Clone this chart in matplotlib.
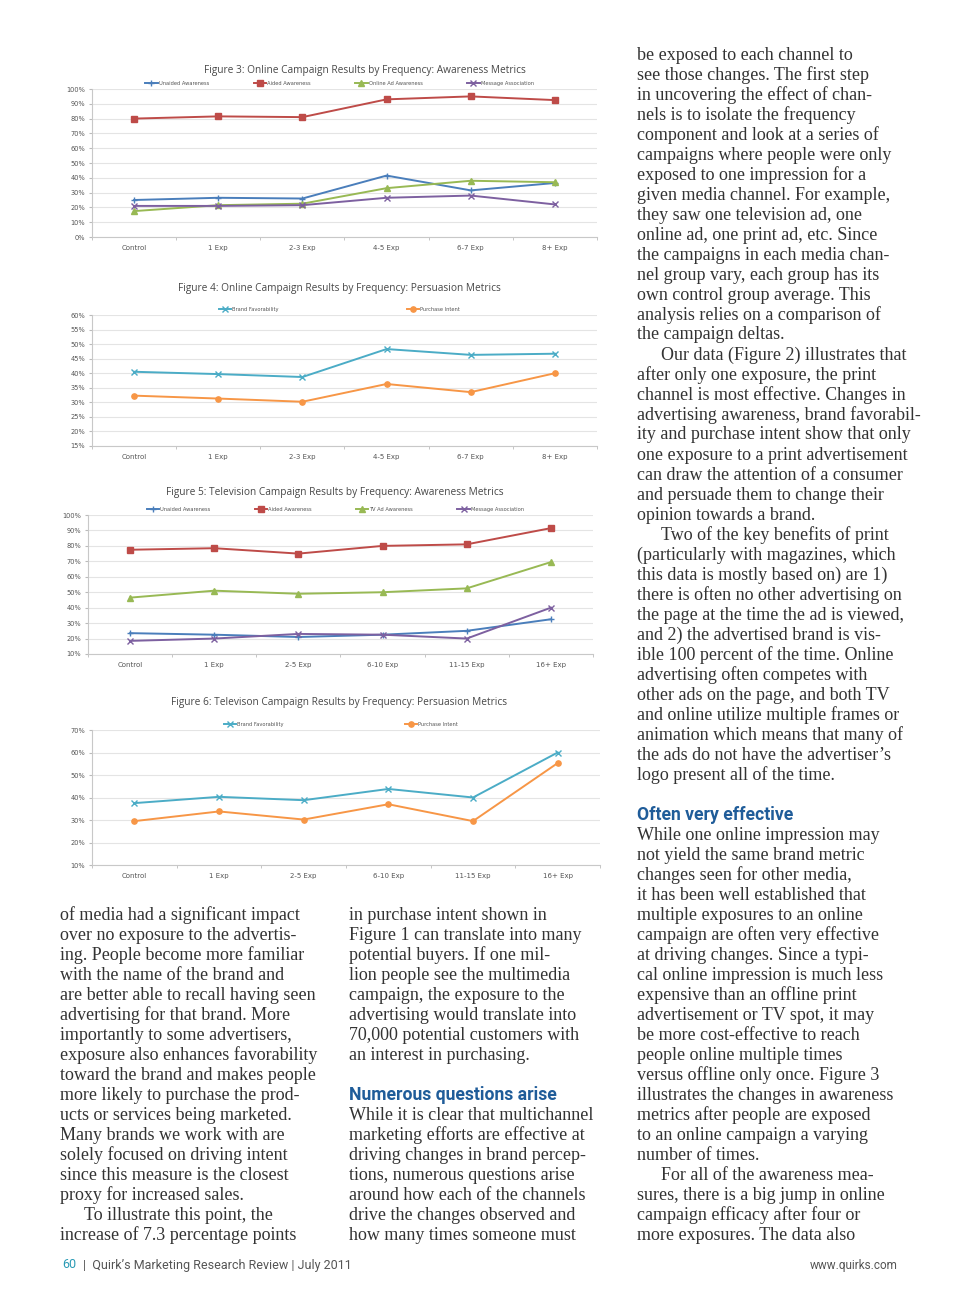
import numpy as np
import matplotlib
matplotlib.use('Agg')
import matplotlib.pyplot as plt

W, H = 960, 1305

# ---- chart data ----
cats_online = ['Control', '1 Exp', '2-3 Exp', '4-5 Exp', '6-7 Exp', '8+ Exp']
cats_tv = ['Control', '1 Exp', '2-5 Exp', '6-10 Exp', '11-15 Exp', '16+ Exp']

f3_unaided = [25, 26.5, 26, 41.5, 31.5, 36.5]
f3_aided = [80, 81.5, 81, 93, 95, 92.5]
f3_online_ad = [17.5, 21.5, 22.5, 33, 38, 37]
f3_message = [21, 21, 21.5, 26.5, 28, 22]

f4_favor = [40.5, 39.7, 38.7, 48.3, 46.3, 46.7]
f4_intent = [32.3, 31.3, 30.2, 36.3, 33.5, 40]

f5_unaided = [23.5, 22.5, 21, 22.5, 25, 32.5]
f5_aided = [77.5, 78.5, 75, 80, 81, 91.5]
f5_tv_ad = [46.5, 51, 49, 50, 52.5, 69.5]
f5_message = [18.5, 20, 23, 22.5, 20, 40]

f6_favor = [37.5, 40.3, 38.8, 43.8, 40, 60]
f6_intent = [29.5, 33.8, 30.2, 37, 29.5, 55.3]

BLUE, RED, GREEN, PURPLE = '#4a7ebb', '#be4b48', '#98b954', '#7d60a0'
TEAL, ORANGE = '#4bacc6', '#f79646'

# ---- page text ----
left_col = [
    "of media had a significant impact",
    "over no exposure to the advertis-",
    "ing. People become more familiar",
    "with the name of the brand and",
    "are better able to recall having seen",
    "advertising for that brand. More",
    "importantly to some advertisers,",
    "exposure also enhances favorability",
    "toward the brand and makes people",
    "more likely to purchase the prod-",
    "ucts or services being marketed.",
    "Many brands we work with are",
    "solely focused on driving intent",
    "since this measure is the closest",
    "proxy for increased sales.",
    "\tTo illustrate this point, the",
    "increase of 7.3 percentage points",
]
mid_col = [
    "in purchase intent shown in",
    "Figure 1 can translate into many",
    "potential buyers. If one mil-",
    "lion people see the multimedia",
    "campaign, the exposure to the",
    "advertising would translate into",
    "70,000 potential customers with",
    "an interest in purchasing.",
    "",
    "#Numerous questions arise",
    "While it is clear that multichannel",
    "marketing efforts are effective at",
    "driving changes in brand percep-",
    "tions, numerous questions arise",
    "around how each of the channels",
    "drive the changes observed and",
    "how many times someone must",
]
right_col = [
    "be exposed to each channel to",
    "see those changes. The first step",
    "in uncovering the effect of chan-",
    "nels is to isolate the frequency",
    "component and look at a series of",
    "campaigns where people were only",
    "exposed to one impression for a",
    "given media channel. For example,",
    "they saw one television ad, one",
    "online ad, one print ad, etc. Since",
    "the campaigns in each media chan-",
    "nel group vary, each group has its",
    "own control group average. This",
    "analysis relies on a comparison of",
    "the campaign deltas.",
    "\tOur data (Figure 2) illustrates that",
    "after only one exposure, the print",
    "channel is most effective. Changes in",
    "advertising awareness, brand favorabil-",
    "ity and purchase intent show that only",
    "one exposure to a print advertisement",
    "can draw the attention of a consumer",
    "and persuade them to change their",
    "opinion towards a brand.",
    "\tTwo of the key benefits of print",
    "(particularly with magazines, which",
    "this data is mostly based on) are 1)",
    "there is often no other advertising on",
    "the page at the time the ad is viewed,",
    "and 2) the advertised brand is vis-",
    "ible 100 percent of the time. Online",
    "advertising often competes with",
    "other ads on the page, and both TV",
    "and online utilize multiple frames or",
    "animation which means that many of",
    "the ads do not have the advertiser\u2019s",
    "logo present all of the time.",
    "",
    "#Often very effective",
    "While one online impression may",
    "not yield the same brand metric",
    "changes seen for other media,",
    "it has been well established that",
    "multiple exposures to an online",
    "campaign are often very effective",
    "at driving changes. Since a typi-",
    "cal online impression is much less",
    "expensive than an offline print",
    "advertisement or TV spot, it may",
    "be more cost-effective to reach",
    "people online multiple times",
    "versus offline only once. Figure 3",
    "illustrates the changes in awareness",
    "metrics after people are exposed",
    "to an online campaign a varying",
    "number of times.",
    "\tFor all of the awareness mea-",
    "sures, there is a big jump in online",
    "campaign efficacy after four or",
    "more exposures. The data also",
]

fig = plt.figure(figsize=(W / 100, H / 100), dpi=100)
fig.patch.set_facecolor('white')


def box(x0, y0, x1, y1):
    return [x0 / W, 1 - y1 / H, (x1 - x0) / W, (y1 - y0) / H]


def draw_chart(rect, title, title_xy, cats, series, ylim, ystep, colspace):
    ax = fig.add_axes(box(*rect))
    x = np.arange(len(cats))
    for label, vals, color, marker in series:
        ax.plot(x, vals, color=color, lw=1.4, marker=marker, ms=3.8,
                mew=1.0, label=label)
    ax.set_xlim(-0.5, len(cats) - 0.5)
    ax.set_ylim(*ylim)
    yt = np.arange(ylim[0], ylim[1] + 0.1, ystep)
    ax.set_yticks(yt)
    ax.set_yticklabels([f'{v:.0f}%' for v in yt])
    ax.set_xticks(x)
    ax.set_xticklabels(cats)
    ax.set_xticks(np.arange(-0.5, len(cats), 1), minor=True)
    ax.tick_params(axis='x', which='major', length=0, labelsize=5, pad=6,
                   labelcolor='#555')
    ax.tick_params(axis='x', which='minor', length=2.5, color='#bbbbbb')
    ax.tick_params(axis='y', length=2, labelsize=4.8, color='#bbbbbb',
                   labelcolor='#555', pad=3)
    ax.grid(axis='y', color='#e4e4e4', lw=0.8)
    ax.set_axisbelow(True)
    for s in ['top', 'right']:
        ax.spines[s].set_visible(False)
    for s in ['left', 'bottom']:
        ax.spines[s].set_color('#c8c8c8')
        ax.spines[s].set_linewidth(0.8)
    leg = ax.legend(loc='lower center', bbox_to_anchor=(0.49, 1.0),
                    ncol=len(series), frameon=False, fontsize=3.7,
                    columnspacing=colspace, handlelength=2.4,
                    handletextpad=0.2, borderaxespad=0.2)
    for t in leg.get_texts():
        t.set_color('#555')
    fig.text(title_xy[0] / W, 1 - title_xy[1] / H, title, ha='center',
             va='center', fontsize=7.3, color='#474747', family='Open Sans')
    return ax


draw_chart((92, 89, 597, 237),
           'Figure 3: Online Campaign Results by Frequency: Awareness Metrics',
           (365, 70), cats_online,
           [('Unaided Awareness', f3_unaided, BLUE, '+'),
            ('Aided Awareness', f3_aided, RED, 's'),
            ('Online Ad Awareness', f3_online_ad, GREEN, '^'),
            ('Message Association', f3_message, PURPLE, 'x')],
           (0, 100), 10, 8.7)

draw_chart((92, 315, 597, 446),
           'Figure 4: Online Campaign Results by Frequency: Persuasion Metrics',
           (339, 288), cats_online,
           [('Brand Favorability', f4_favor, TEAL, 'x'),
            ('Purchase Intent', f4_intent, ORANGE, 'o')],
           (15, 60), 5, 25)

draw_chart((88, 515, 593, 654),
           'Figure 5: Television Campaign Results by Frequency: Awareness Metrics',
           (335, 493), cats_tv,
           [('Unaided Awareness', f5_unaided, BLUE, '+'),
            ('Aided Awareness', f5_aided, RED, 's'),
            ('TV Ad Awareness', f5_tv_ad, GREEN, '^'),
            ('Message Association', f5_message, PURPLE, 'x')],
           (10, 100), 10, 8.6)

draw_chart((92, 730, 600, 865),
           'Figure 6: Televison Campaign Results by Frequency: Persuasion Metrics',
           (339, 702), cats_tv,
           [('Brand Favorability', f6_favor, TEAL, 'x'),
            ('Purchase Intent', f6_intent, ORANGE, 'o')],
           (10, 70), 10, 23.5)


def column(lines, x, y, step=20):
    for i, line in enumerate(lines):
        yy = 1 - (y + i * step) / H
        if not line:
            continue
        if line.startswith('#'):
            fig.text(x / W, yy, line[1:], fontsize=12.7, fontweight='bold',
                     color='#1f5c99', family='Roboto', va='center')
        elif line.startswith('\t'):
            fig.text((x + 24) / W, yy, line[1:], fontsize=13,
                     color='#333333', family='Liberation Serif', va='center')
        else:
            fig.text(x / W, yy, line, fontsize=13, color='#333333',
                     family='Liberation Serif', va='center')


column(left_col, 60, 915)
column(mid_col, 349, 915)
column(right_col, 637, 55)

# footer
fig.text(62 / W, 1 - 1265 / H, '60', fontsize=9, color='#2a9bb5',
         family='Roboto', va='center')
fig.text(83 / W, 1 - 1265 / H,
         '|  Quirk\u2019s Marketing Research Review | July 2011',
         fontsize=9.0, color='#555555', family='Roboto', va='center')
fig.text(898 / W, 1 - 1265 / H, 'www.quirks.com', fontsize=8.5,
         color='#555555', family='Roboto', va='center', ha='right')

fig.savefig('out.png', dpi=100, facecolor='white')
